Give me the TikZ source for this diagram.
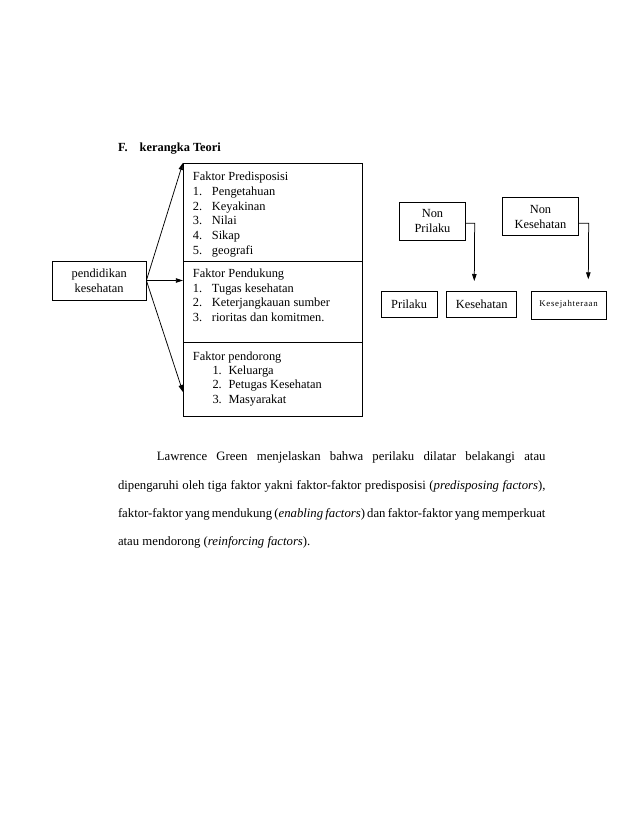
\documentclass[tikz,border=0pt]{standalone}
\usepackage{fontspec}
\setmainfont{Liberation Serif}
\usetikzlibrary{arrows.meta,calc}
\newcommand\dfont{\fontsize{12.4}{14.6}\selectfont}
\newcommand\bfont{\fontsize{12.75}{15}\selectfont\spaceskip=0.25em plus 1em minus 0.15em\relax}
\newcommand\kfont{\fontsize{8.8}{10}\selectfont\addfontfeatures{LetterSpace=8}}
\begin{document}
\begin{tikzpicture}[x=1pt,y=-1pt,
  box/.style={draw,line width=0.75pt,inner sep=0pt},
  tl/.style={inner sep=0pt,anchor=base west,font=\dfont},
  tc/.style={inner sep=0pt,anchor=base,font=\dfont},
  pl/.style={inner sep=0pt,anchor=base west,font=\bfont},
  arr/.style={line width=0.75pt,-{Triangle[length=7pt,width=4.5pt]}}]
\useasboundingbox[fill=white] (0,0) rectangle (638,826);
% title
\node[tl,font=\dfont\bfseries] (tF) at (118,152) {F.};
\node[tl,font=\dfont\bfseries] (tT) at (139.5,152) {kerangka Teori};
% left boxes
\node[box,minimum width=93.7pt,minimum height=39pt] (pen) at (99.15,280.5) {};
\node[tc] (pen1) at (99.15,277.5) {pendidikan};
\node[tc] (pen2) at (99.15,292) {kesehatan};
\node[box,minimum width=179pt,minimum height=97.7pt] (pre) at (272.8,212.15) {};
\node[box,minimum width=179pt,minimum height=81.3pt] (pend) at (272.8,301.65) {};
\node[box,minimum width=179pt,minimum height=73.7pt] (dor) at (272.8,379.15) {};
% texts of big box
\node[tl] (a0) at (192.7,181) {Faktor Predisposisi};
\node[tl] (a1) at (192.7,195.6) {\makebox[19pt][l]{1.}Pengetahuan};
\node[tl] (a2) at (192.7,210.2) {\makebox[19pt][l]{2.}Keyakinan};
\node[tl] (a3) at (192.7,224.8) {\makebox[19pt][l]{3.}Nilai};
\node[tl] (a4) at (192.7,239.4) {\makebox[19pt][l]{4.}Sikap};
\node[tl] (a5) at (192.7,254) {\makebox[19pt][l]{5.}geografi};
\node[tl] (b0) at (192.7,277.5) {Faktor Pendukung};
\node[tl] (b1) at (192.7,292.1) {\makebox[19pt][l]{1.}Tugas kesehatan};
\node[tl] (b2) at (192.7,306.7) {\makebox[19pt][l]{2.}Keterjangkauan sumber};
\node[tl] (b3) at (192.7,321.3) {\makebox[19pt][l]{3.}rioritas dan komitmen.};
\node[tl] (c0) at (192.7,360) {Faktor pendorong};
\node[tl] (c1) at (212.3,374.2) {\makebox[16pt][l]{1.}Keluarga};
\node[tl] (c2) at (212.3,388.6) {\makebox[16pt][l]{2.}Petugas Kesehatan};
\node[tl] (c3) at (212.3,403) {\makebox[16pt][l]{3.}Masyarakat};
% arrows from pendidikan
\coordinate (dtip) at ($(dor.west)+(0,12.8)$);
\draw[arr] (pen.east) -- (pre.north west);
\draw[arr] (pen.east) -- (pen.east -| pend.west);
\draw[arr] (pen.east) -- (dtip);
% right part
\node[box,minimum width=66.4pt,minimum height=37.3pt] (np) at (432.5,221.35) {};
\node[tc] (np1) at (432.5,218) {Non};
\node[tc] (np2) at (432.5,233) {Prilaku};
\node[box,minimum width=75.6pt,minimum height=37.3pt] (nk) at (540.5,216.35) {};
\node[tc] (nk1) at (540.5,214) {Non};
\node[tc] (nk2) at (540.5,228.5) {Kesehatan};
\node[box,minimum width=56.3pt,minimum height=25.6pt] (pr) at (409.15,304.5) {};
\node[tc] (pr1) at (409.15,308.5) {Prilaku};
\node[box,minimum width=70pt,minimum height=25.6pt] (ks) at (481.7,304.5) {};
\node[tc] (ks1) at (481.7,308.5) {Kesehatan};
\node[box,minimum width=75pt,minimum height=28.3pt] (kj) at (568.5,305.15) {};
\node[inner sep=0pt,anchor=base,font=\kfont] (kj1) at (568.5,306) {Kesejahteraan};
\coordinate (npc) at ($(np.east)+(8.6,2)$);
\coordinate (nptip) at (474.3,281);
\draw[arr] ($(np.east)+(0,2)$) -- (npc) -- (nptip);
\coordinate (nkc) at ($(nk.east)+(10,7)$);
\coordinate (nktip) at (588.3,279.3);
\draw[arr] ($(nk.east)+(0,7)$) -- (nkc) -- (nktip);
% paragraph
\node[pl] (l1) at (156.7,460) {\makebox[388.6pt][s]{Lawrence Green menjelaskan bahwa perilaku dilatar belakangi atau}};
\node[pl] (l2) at (117.8,489) {\makebox[427.5pt][s]{dipengaruhi oleh tiga faktor yakni faktor-faktor predisposisi (\textit{predisposing factors}),}};
\node[pl] (l3) at (117.8,517) {\makebox[427.5pt][s]{faktor-faktor yang mendukung (\textit{enabling factors}) dan faktor-faktor yang memperkuat}};
\node[pl] (l4) at (117.8,545) {atau mendorong (\textit{reinforcing factors}).};
\end{tikzpicture}
\end{document}
